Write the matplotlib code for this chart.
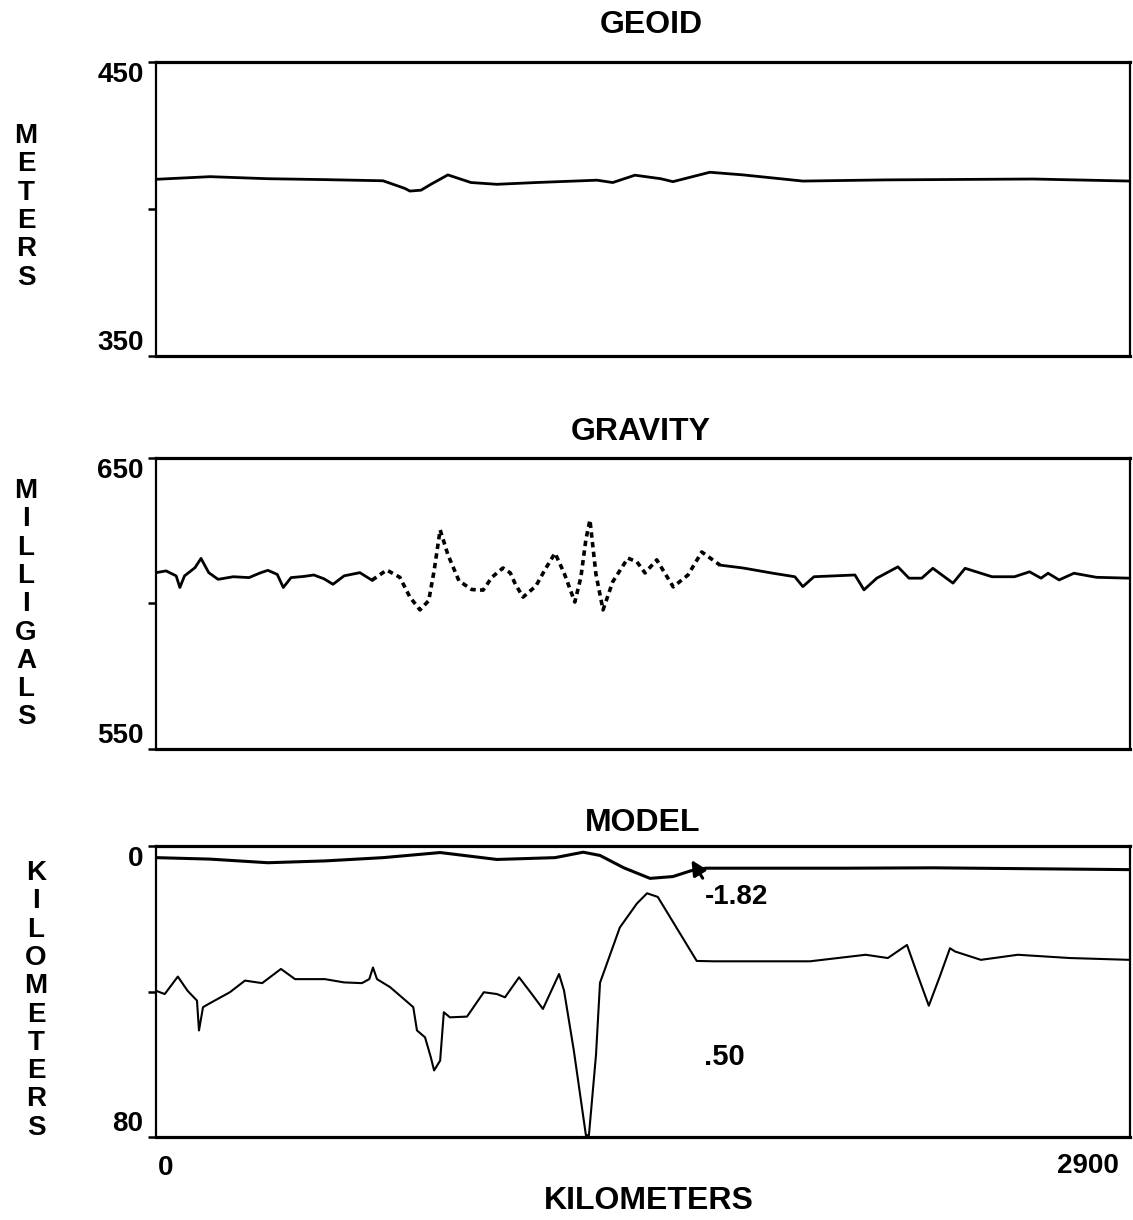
import numpy as np
import matplotlib
matplotlib.use("Agg")
import matplotlib.pyplot as plt

plt.rcParams['font.family'] = ['Liberation Sans', 'DejaVu Sans']
plt.rcParams['font.weight'] = 'bold'

# ---- data ----
geoid_km = [0, 161, 333, 500, 676, 741, 756, 789, 820, 869, 938, 1015, 1131, 1313,
            1360, 1426, 1503, 1539, 1649, 1748, 1926, 2170, 2611, 2900]
geoid_m = [410.1, 411.0, 410.3, 410.0, 409.6, 407.0, 406.1, 406.4, 408.5, 411.6, 409.0,
           408.4, 409.0, 409.8, 409.0, 411.5, 410.3, 409.3, 412.5, 411.6, 409.5, 409.9,
           410.2, 409.5]

grav_km = [0, 30, 60, 71, 85, 116, 134, 157, 185, 230, 277, 310, 333, 361, 379, 402,
           440, 470, 500, 527, 560, 607, 643, 687, 726, 756, 786, 812, 828, 846, 869,
           902, 940, 974, 1000, 1033, 1055, 1070, 1093, 1131, 1160, 1188, 1215, 1247,
           1265, 1280, 1292, 1310, 1331, 1360, 1405, 1432, 1456, 1491, 1540, 1584, 1625,
           1679, 1748, 1837, 1902, 1926, 1959, 2020, 2081, 2108, 2146, 2209, 2242, 2280,
           2313, 2373, 2409, 2489, 2556, 2601, 2635, 2656, 2689, 2733, 2800, 2900]
grav_mgal = [610.6, 611.2, 609.5, 605.5, 609.5, 612.3, 615.5, 610.6, 608.3, 609.2, 608.9,
             610.5, 611.4, 610, 605.5, 608.9, 609.3, 609.8, 608.5, 606.6, 609.5, 610.6,
             608, 611.5, 609, 602.2, 597.8, 601, 611.2, 625.3, 616.8, 607.8, 604.8,
             604.6, 609, 612.2, 610.5, 606.6, 602.2, 606, 612, 617.3, 610.5, 600.5, 609,
             622, 628.7, 610, 597.8, 607.5, 615.6, 614.3, 610.5, 615, 605.7, 609.8,
             617.7, 613.2, 612.2, 610.4, 609.2, 605.8, 609.2, 609.5, 609.8, 604.7, 608.7,
             612.6, 608.7, 608.7, 612.1, 607, 612.1, 609.2, 609.2, 610.9, 608.7, 610.4,
             608.1, 610.4, 609, 608.7]

top_km = [0, 160, 333, 503, 676, 846, 1015, 1188, 1272, 1322, 1393, 1471, 1539, 1593,
          1637, 2057, 2313, 2900]
top_depth = [3.2, 3.6, 4.6, 4.1, 3.2, 1.8, 3.7, 3.2, 1.7, 2.6, 6.0, 8.9, 8.4, 6.8, 6.1,
             6.1, 6.0, 6.5]

moho_km = [0, 26, 65, 94, 122, 128, 140, 157, 220, 265, 316, 372, 414, 503, 560, 613,
           635, 646, 658, 697, 766, 777, 801, 818, 828, 846, 857, 875, 926, 976, 1015,
           1039, 1081, 1119, 1152, 1200, 1215, 1244, 1280, 1289, 1310, 1322, 1381, 1432,
           1462, 1494, 1610, 1661, 1947, 2113, 2179, 2236, 2269, 2301, 2334, 2364, 2379,
           2456, 2566, 2721, 2900]
moho_depth = [39.8, 40.7, 35.9, 39.8, 42.5, 50.7, 44.3, 43.4, 40.2, 37.0, 37.7, 33.8,
              36.6, 36.6, 37.5, 37.7, 36.6, 33.4, 36.6, 38.8, 44.3, 50.7, 52.6, 58.0,
              61.7, 59.0, 45.7, 47.1, 46.9, 40.2, 40.7, 41.6, 36.1, 40.7, 44.8, 35.2,
              39.8, 56.2, 79.5, 79.5, 57.5, 37.6, 22.4, 15.8, 13.0, 14.0, 31.6, 31.7,
              31.7, 29.9, 30.8, 27.2, 35.8, 43.9, 35.8, 28.1, 29.0, 31.3, 29.9, 30.8,
              31.3]

W, H = 1133, 1220


def rect(l, t, r, b):
    return [l / W, 1 - b / H, (r - l) / W, (b - t) / H]


def vertical_word(word, x, y0, step=28.3, size=20):
    for i, ch in enumerate(word):
        fig.text(x / W, 1 - (y0 + i * step) / H, ch, ha='center', va='center',
                 fontsize=size, fontweight='bold')


def frame(ax, ylim, ylabels):
    ax.set_xlim(0, 2900)
    ax.set_ylim(*ylim)
    for side in ['top', 'bottom']:
        ax.spines[side].set_linewidth(2.3)
    for side in ['left', 'right']:
        ax.spines[side].set_linewidth(1.6)
    ax.set_yticks([ylim[0], (ylim[0] + ylim[1]) / 2, ylim[1]])
    ax.set_yticklabels(ylabels)
    ax.tick_params(axis='y', direction='out', length=6, width=1.8, pad=3,
                   labelsize=20)
    labs = ax.get_yticklabels()
    labs[0].set_va('bottom')
    labs[-1].set_va('top')
    ax.set_xticks([])


fig = plt.figure(figsize=(W / 100, H / 100), dpi=100)

# GEOID
ax1 = fig.add_axes(rect(156, 62, 1130, 356))
ax1.plot(geoid_km, geoid_m, color='black', lw=2.0)
frame(ax1, (350, 450), ['350', '', '450'])
fig.text(651 / W, 1 - 25 / H, 'GEOID', ha='center', va='center', fontsize=23)
vertical_word('METERS', 26, 136)

# GRAVITY
ax2 = fig.add_axes(rect(156, 458, 1130, 749))
g_km = np.array(grav_km)
g_v = np.array(grav_mgal)
m1 = g_km <= 643
m2 = (g_km >= 643) & (g_km <= 1679)
m3 = g_km >= 1679
ax2.plot(g_km[m1], g_v[m1], color='black', lw=2.0)
ax2.plot(g_km[m2], g_v[m2], color='black', lw=2.6, linestyle=(0, (1.5, 1.2)))
ax2.plot(g_km[m3], g_v[m3], color='black', lw=2.0)
frame(ax2, (550, 650), ['550', '', '650'])
fig.text(641 / W, 1 - 432 / H, 'GRAVITY', ha='center', va='center', fontsize=23)
vertical_word('MILLIGALS', 26, 491)

# MODEL
ax3 = fig.add_axes(rect(156, 846, 1130, 1137))
ax3.plot(top_km, top_depth, color='black', lw=2.2)
ax3.plot(moho_km, moho_depth, color='black', lw=1.5)
frame(ax3, (80, 0), ['80', '', '0'])
ax3.annotate('', xy=(1590, 3.2), xytext=(1632, 9.5),
             arrowprops=dict(arrowstyle='-|>', color='black', lw=2.2,
                             mutation_scale=22))
ax3.text(1730, 14.1, '-1.82', ha='center', va='center', fontsize=20)
ax3.text(1692, 58, '.50', ha='center', va='center', fontsize=21)
fig.text(643 / W, 1 - 823 / H, 'MODEL', ha='center', va='center', fontsize=23)
vertical_word('KILOMETERS', 36, 873)

fig.text(158 / W, 1 - 1168 / H, '0', ha='left', va='center', fontsize=20)
fig.text(1119 / W, 1 - 1166 / H, '2900', ha='right', va='center', fontsize=20)
fig.text(649 / W, 1 - 1201 / H, 'KILOMETERS', ha='center', va='center', fontsize=23)

fig.savefig('out.png', dpi=100)
